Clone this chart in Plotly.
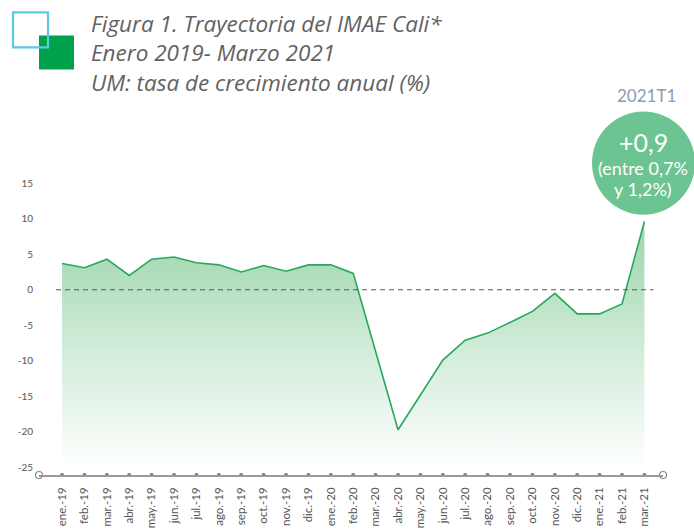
import plotly.graph_objects as go

# ---- data ----
months = ["ene.-19", "feb.-19", "mar.-19", "abr.-19", "may.-19", "jun.-19", "jul.-19",
          "ago.-19", "sep.-19", "oct.-19", "nov.-19", "dic.-19", "ene.-20", "feb.-20",
          "mar.-20", "abr.-20", "may.-20", "jun.-20", "jul.-20", "ago.-20", "sep.-20",
          "oct.-20", "nov.-20", "dic.-20", "ene.-21", "feb.-21", "mar.-21"]
imae = [3.7, 3.1, 4.3, 2.0, 4.3, 4.6, 3.8, 3.5, 2.5, 3.4, 2.6, 3.5, 3.5, 2.3,
        -8.7, -19.7, -14.8, -9.9, -7.1, -6.1, -4.6, -3.05, -0.5, -3.4, -3.4, -2.0, 9.6]
y_ticks = [-25, -20, -15, -10, -5, 0, 5, 10, 15]
y_tick_labels = ["-25", "-20", "-15", "-10", "-5", "0", "5", "10", "15"]
title_lines = ["Figura 1. Trayectoria del IMAE Cali*", "Enero 2019- Marzo 2021",
               "UM: tasa de crecimiento anual (%)"]

xs = list(range(len(months)))
W, H = 694, 531
L, R, T, B = 39, 31, 176.4, 56
X_RANGE = [-1.03, 26.83]
Y_RANGE = [-26.06, 16]
FILL_BASE = -25.3

def px(x):
    return (x - L) / (W - L - R)

def py(y):
    return (H - B - y) / (H - T - B)

fig = go.Figure()

# baseline for gradient fill
fig.add_trace(go.Scatter(x=xs, y=[FILL_BASE] * len(xs), mode="lines",
                         line=dict(width=0, color="rgba(0,0,0,0)"),
                         hoverinfo="skip", showlegend=False))
fig.add_trace(go.Scatter(
    x=xs, y=imae, mode="lines",
    line=dict(color="#27a85a", width=1.6),
    fill="tonexty",
    fillgradient=dict(type="vertical", start=FILL_BASE, stop=10,
                      colorscale=[[0, "rgba(255,255,255,1)"],
                                  [0.45, "#d4eddb"],
                                  [1, "#99d4a9"]]),
    showlegend=False))

# axis dots and end circles
fig.add_trace(go.Scatter(x=xs, y=[Y_RANGE[0]] * len(xs), mode="markers",
                         marker=dict(size=4, color="#7a7a7a"),
                         cliponaxis=False, showlegend=False, hoverinfo="skip"))
fig.add_trace(go.Scatter(x=X_RANGE, y=[Y_RANGE[0]] * 2, mode="markers",
                         marker=dict(size=7, color="white", line=dict(color="#8a8a8a", width=1.2)),
                         cliponaxis=False, showlegend=False, hoverinfo="skip"))

shapes = [
    dict(type="line", xref="x", yref="y", x0=-0.27, x1=26.4, y0=0, y1=0,
         line=dict(color="#555555", width=1.2, dash="5px,4px")),
    # logo squares
    dict(type="rect", xref="paper", yref="paper", x0=px(39), x1=px(74), y0=py(70), y1=py(36),
         fillcolor="#00a14b", line=dict(width=0)),
    dict(type="rect", xref="paper", yref="paper", x0=px(13), x1=px(48), y0=py(48), y1=py(13),
         fillcolor="rgba(0,0,0,0)", line=dict(color="#5bc8e8", width=2.2)),
    # highlight circle
    dict(type="circle", xref="paper", yref="paper", x0=px(592), x1=px(695), y0=py(215), y1=py(112),
         fillcolor="#6cc492", line=dict(width=0)),
]

annotations = [
    dict(text="<i>" + "<br>".join(title_lines) + "</i>", x=px(89), y=py(54),
         xref="paper", yref="paper", xanchor="left", yanchor="middle", align="left",
         showarrow=False, font=dict(family="Open Sans", size=22.5, color="#626262")),
]
circle_texts = [
    dict(text="2021T1", x=px(646), y=py(96), font=dict(family="Lato", size=17, color="#8a9eae")),
    dict(text="+0,9", x=px(643), y=py(142), font=dict(family="Lato", size=25, color="white")),
    dict(text="(entre 0,7%", x=px(643), y=py(168), font=dict(family="Lato", size=18, color="white")),
    dict(text="y 1,2%)", x=px(643), y=py(189), font=dict(family="Lato", size=18, color="white")),
]
for a in circle_texts:
    a.update(xref="paper", yref="paper", xanchor="center", yanchor="middle", showarrow=False)
annotations += circle_texts

fig.update_layout(
    width=W, height=H,
    margin=dict(l=L, r=R, t=T, b=B, pad=0),
    paper_bgcolor="white", plot_bgcolor="white",
    shapes=shapes, annotations=annotations,
    xaxis=dict(range=X_RANGE, tickvals=xs, ticktext=months, tickangle=-90,
               showgrid=False, zeroline=False, showline=True, linecolor="#9a9a9a",
               linewidth=1.5, ticks="", ticklabelstandoff=6, automargin=False,
               tickfont=dict(family="Lato", size=11.5, color="#555555")),
    yaxis=dict(range=Y_RANGE, tickvals=y_ticks, ticktext=y_tick_labels,
               showgrid=False, zeroline=False, showline=False, ticks="",
               ticklabelstandoff=5, automargin=False,
               tickfont=dict(family="Lato", size=10, color="#555555")),
    showlegend=False,
)

fig.write_html("out.html", config={"displayModeBar": False},
               post_script="document.body.style.margin='0px';")
